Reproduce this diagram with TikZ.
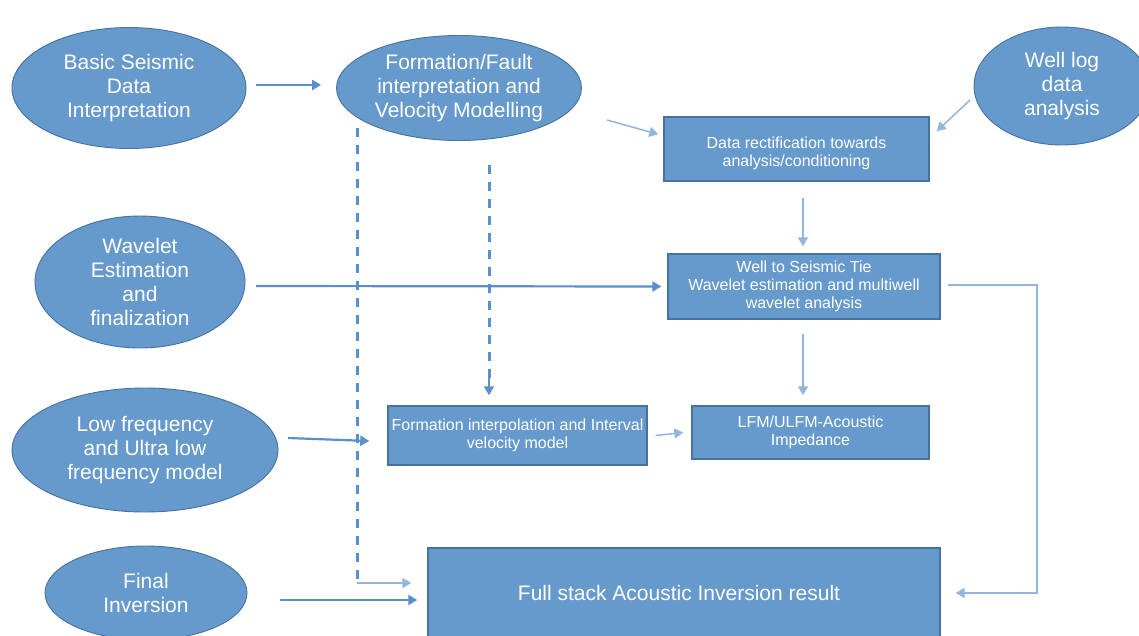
\documentclass[tikz,border=0pt]{standalone}
\usepackage{fontspec}
\setmainfont{Liberation Sans}
\usetikzlibrary{shapes.geometric,arrows.meta}
\definecolor{boxfill}{HTML}{6699CC}
\definecolor{boxedge}{HTML}{45729F}
\definecolor{linkdark}{HTML}{5B8FCA}
\definecolor{linklight}{HTML}{92B6DE}
\tikzset{
  oval/.style={ellipse, fill=boxfill, draw=boxedge, line width=0.9pt, inner sep=0pt,
    text=white, align=center, font=\fontsize{21}{24}\selectfont},
  stage/.style={rectangle, fill=boxfill, draw=boxedge, line width=1.4pt, inner sep=0pt,
    text=white, align=center, font=\fontsize{16}{18}\selectfont},
  flow/.style={draw=linkdark, line width=2.2pt, -{Triangle[width=10pt,length=9pt]}},
  thinflow/.style={draw=linklight, line width=1.5pt, -{Triangle[width=10pt,length=9pt]}},
  dashlink/.style={draw=linkdark, line width=3pt, dash pattern=on 9pt off 8pt},
}
\begin{document}
\begin{tikzpicture}[x=1pt,y=-1pt]
\useasboundingbox (0,0) rectangle (1139,635);

% input ellipses
\node[oval, minimum width=234pt, minimum height=121pt] (basic) at (129,88)
  {Basic Seismic\\Data\\Interpretation};
\node[oval, minimum width=245pt, minimum height=105pt] (fault) at (459,88)
  {Formation/Fault\\interpretation and\\Velocity Modelling};
\node[oval, minimum width=176pt, minimum height=118pt] (welllog) at (1062,86)
  {Well log\\data\\analysis};
\node[oval, minimum width=210pt, minimum height=132pt] (wavelet) at (140,282)
  {Wavelet\\Estimation\\and\\finalization};
\node[oval, minimum width=266pt, minimum height=124pt] (lowfreq) at (145,450)
  {Low frequency\\and Ultra low\\frequency model};
\node[oval, minimum width=202pt, minimum height=94pt] (final) at (146,593)
  {Final\\Inversion};

% processing boxes
\node[stage, minimum width=265pt, minimum height=64pt] (rect) at (796.5,149)
  {\rule{0pt}{20pt}Data rectification towards\\analysis/conditioning};
\node[stage, minimum width=272pt, minimum height=65pt] (tie) at (804,286.5)
  {Well to Seismic Tie\\Wavelet estimation and multiwell\\wavelet analysis};
\node[stage, minimum width=259pt, minimum height=59pt] (interp) at (517.5,435.5)
  {Formation interpolation and Interval\\velocity model};
\node[stage, minimum width=237pt, minimum height=53pt] (lfm) at (810.5,432.5)
  {LFM/ULFM-Acoustic\\Impedance};
\node[stage, minimum width=512pt, minimum height=90pt, font=\fontsize{21}{22}\selectfont]
  (full) at (684,593) {\hspace*{-10pt}Full stack Acoustic Inversion result};

% connectors
\draw[flow] (basic.east |- 0,85) ++(10,0) -- ([xshift=-15pt]fault.west |- 0,85);
\draw[thinflow] (607,120) -- ([xshift=-5pt,yshift=-18pt]rect.north west);
\draw[thinflow] (970,100) -- ([xshift=7pt,yshift=-15pt]rect.north east);
\draw[thinflow] ([yshift=-16pt]rect.south -| 803,0) -- ([yshift=7pt]tie.north -| 803,0);
\draw[flow] (256,286) -- ([xshift=-6pt]tie.west);
\draw[thinflow] ([yshift=-14pt]tie.south -| 803,0) -- ([yshift=10pt]lfm.north -| 803,0);
\draw[thinflow] ([xshift=8pt]interp.east) -- ([xshift=-8pt]lfm.west);
\draw[flow] (288,438) -- ([xshift=-18pt,yshift=-5.5pt]interp.west);
\draw[flow] (280,600) -- ([xshift=-10pt]full.west |- 0,600);

% dashed guides from the velocity model
\coordinate (dashtop1) at (357,128);
\coordinate (dashfoot1) at (357,583);
\draw[dashlink] (dashtop1) -- (dashfoot1);
\draw[thinflow] (dashfoot1) -- ([xshift=-16pt]full.west |- 0,583);
\coordinate (dashtop2) at (489,165);
\draw[dashlink] (dashtop2) -- (489,378);
\draw[draw=linkdark, line width=1.5pt, -{Triangle[width=10pt,length=9pt]}]
  (489,376) -- ([yshift=10pt]interp.north -| 489,0);

% tie output routed round to the final result
\coordinate (bendtop) at (1037,285);
\coordinate (bendbot) at (1037,593);
\draw[thinflow] ([xshift=7pt]tie.east |- 0,285) -- (bendtop) -- (bendbot)
  -- ([xshift=15pt]full.east |- 0,593);
\end{tikzpicture}
\end{document}
